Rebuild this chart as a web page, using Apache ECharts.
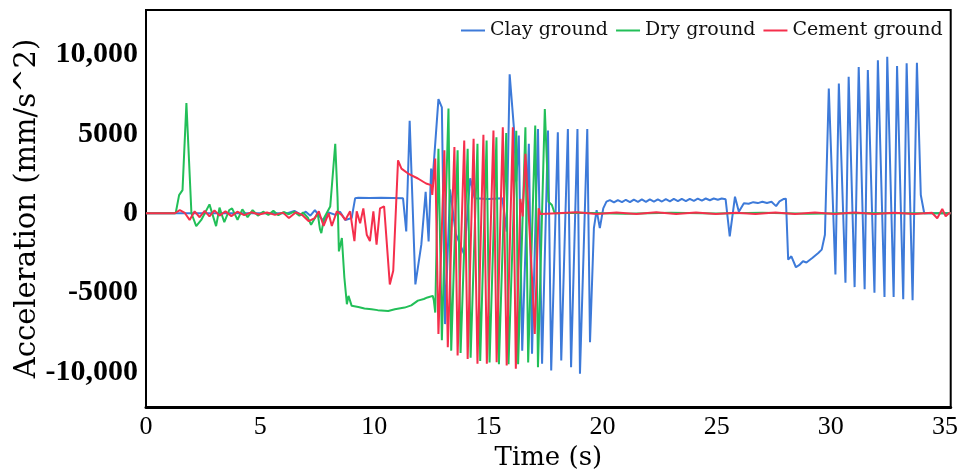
<!DOCTYPE html>
<html>
<head>
<meta charset="utf-8">
<script src="https://cdn.jsdelivr.net/npm/echarts@6/dist/echarts.min.js"></script>
<style>html,body{margin:0;padding:0;background:#fff;}#chart{width:961px;height:476px;}</style>
</head>
<body>
<div id="chart"></div>
<script>
const seriesNames = ['Clay ground', 'Dry ground', 'Cement ground'];
const xTickValues = [0, 5, 10, 15, 20, 25, 30, 35];
const yTickValues = [-10000, -5000, 0, 5000, 10000];
const yTickLabels = ['-10,000', '-5000', '0', '5000', '10,000'];

const clayTime = [0, 6.2, 6.5, 6.8, 7.0, 7.2, 7.4, 7.6, 7.8, 8.0, 8.3, 8.5, 8.73, 9.01, 9.16, 9.3, 9.8, 10.3, 10.8, 11.26, 11.4, 11.55, 11.8, 12.06, 12.25, 12.38, 12.49, 12.54, 12.81, 12.96, 13.1, 13.32, 13.57, 13.94, 14.2, 14.4, 15.0, 15.61, 15.8, 15.93, 16.12, 16.22, 16.33, 16.48, 16.77, 16.91, 17.17, 17.35, 17.61, 17.75, 18.04, 18.19, 18.48, 18.62, 18.9, 19.01, 19.33, 19.45, 19.62, 19.74, 19.88, 20.03, 20.17, 20.32, 20.5, 20.67, 20.85, 21.02, 21.2, 21.37, 21.55, 21.72, 21.9, 22.07, 22.25, 22.42, 22.6, 22.77, 22.95, 23.12, 23.3, 23.47, 23.65, 23.82, 24.0, 24.17, 24.35, 24.52, 24.7, 24.87, 25.05, 25.22, 25.39, 25.57, 25.8, 25.97, 26.19, 26.4, 26.6, 26.8, 27.0, 27.2, 27.4, 27.6, 27.75, 27.94, 28.03, 28.13, 28.27, 28.47, 28.64, 28.78, 28.93, 29.2, 29.45, 29.6, 29.74, 29.91, 30.2, 30.35, 30.64, 30.78, 31.04, 31.22, 31.48, 31.62, 31.91, 32.06, 32.35, 32.47, 32.75, 32.9, 33.17, 33.32, 33.58, 33.77, 33.94, 34.09, 35.25];
const clayAccel = [0, 0, 150, -100, 100, -150, 200, -200, -520, 50, -100, 100, -420, -300, 940, 980, 960, 980, 960, 940, -1150, 5830, -4480, -1980, 1350, -1770, 2810, 1800, 7190, 6670, -6980, 1500, -1300, -2600, 2200, 940, 900, 940, -1150, 8750, 5310, 2000, 4900, -8650, 4375, -8850, 5300, -9480, 5210, -9900, 5100, -9270, 5310, -9690, 5310, -10100, 5310, -8125, -940, 200, -940, 310, 730, 830, 680, 830, 700, 850, 700, 860, 720, 870, 720, 880, 740, 880, 740, 890, 750, 900, 760, 900, 770, 910, 780, 920, 800, 930, 820, 930, 850, 930, 880, -1460, 1040, 100, 625, 600, 700, 640, 730, 650, 720, 450, 750, 900, 920, -2920, -2710, -3400, -3230, -3020, -3100, -2800, -2500, -2290, -1350, 7860, -3850, 8170, -4375, 8600, -4650, 9210, -4790, 9020, -5000, 9640, -5270, 9850, -5270, 9270, -5420, 9440, -5480, 9480, 1150, 0, 0];

const dryTime = [0, 1.3, 1.45, 1.6, 1.77, 1.99, 2.2, 2.42, 2.78, 3.07, 3.22, 3.43, 3.65, 3.77, 4.01, 4.22, 4.45, 4.67, 4.9, 5.13, 5.36, 5.58, 5.8, 6.03, 6.26, 6.49, 6.72, 6.88, 7.1, 7.23, 7.52, 7.62, 7.68, 7.8, 8.07, 8.29, 8.39, 8.45, 8.58, 8.69, 8.8, 8.87, 9.01, 9.3, 9.57, 9.88, 10.15, 10.61, 10.9, 11.33, 11.62, 11.91, 12.17, 12.33, 12.56, 12.61, 12.67, 12.81, 12.96, 13.25, 13.37, 13.65, 13.78, 14.09, 14.22, 14.52, 14.64, 14.92, 15.05, 15.35, 15.46, 15.78, 15.88, 16.22, 16.3, 16.62, 16.74, 17.05, 17.17, 17.47, 17.63, 17.78, 17.9, 19.0, 21.0, 23.0, 25.0, 27.0, 29.0, 31.0, 33.0, 35.25];
const dryAccel = [0, 0, 1144, 1456, 6937, 0, -812, -420, 560, -812, 356, -562, 206, 312, -420, 250, -250, 200, -150, 100, -100, 150, -120, 80, -60, 100, -150, 50, -300, -730, 0, -1000, -1250, -300, 420, 4375, 1000, -2400, -1560, -4060, -5730, -5200, -5830, -5900, -6000, -6040, -6100, -6150, -6050, -5940, -5800, -5500, -5400, -5300, -5200, -5500, -6250, 4060, -8000, 6600, -8650, 3960, -8800, 4060, -9100, 4375, -9300, 4580, -9400, 4790, -9500, 5060, -9500, 5200, -9500, 5420, -9400, 5520, -9690, 6560, 730, 520, 0, 30, -30, 40, -20, 30, -30, 20, 0, 0];

const cementTime = [0, 1.26, 1.48, 1.7, 1.91, 2.13, 2.35, 2.57, 2.78, 3.0, 3.22, 3.48, 3.74, 4.0, 4.3, 4.61, 4.96, 5.3, 5.65, 6.0, 6.26, 6.57, 6.83, 7.13, 7.39, 7.57, 7.78, 8.0, 8.14, 8.36, 8.57, 8.73, 8.94, 9.13, 9.23, 9.38, 9.52, 9.67, 9.81, 9.96, 10.1, 10.25, 10.43, 10.68, 10.83, 11.04, 11.19, 11.48, 11.91, 12.27, 12.49, 12.54, 12.67, 12.81, 13.07, 13.22, 13.51, 13.65, 13.94, 14.09, 14.35, 14.52, 14.78, 14.93, 15.22, 15.36, 15.63, 15.8, 16.07, 16.2, 16.4, 16.5, 16.62, 16.88, 17.03, 17.2, 17.27, 18.0, 18.87, 19.74, 20.61, 21.48, 22.35, 23.22, 24.09, 24.96, 25.83, 26.7, 27.57, 28.43, 29.3, 30.17, 31.04, 31.91, 32.78, 33.65, 34.43, 34.66, 34.88, 35.03, 35.17, 35.25];
const cementAccel = [0, 0, 200, 20, -420, 120, -250, 150, -200, 180, -150, 120, -180, 100, -120, 60, -80, 50, -100, 40, -300, 60, -100, -500, -300, 125, -800, 0, -800, 120, -100, -420, 120, -1750, 120, -625, 310, -1350, -1750, 125, -1980, 310, 440, -4480, -3625, 3330, 2810, 2500, 2190, 1875, 1770, 1150, 3440, -7600, 3960, -8440, 4170, -8960, 4580, -9170, 4690, -9480, 4940, -9480, 5210, -9375, 5420, -9580, 5420, -9790, 900, -200, 3750, -3230, -7600, 310, -50, 0, 60, -40, 50, -50, 60, -40, 50, -50, 40, -50, 50, -40, 50, -40, 50, -50, 40, -40, 30, -310, 270, -190, 0, 0];

function zip(t, v) { return t.map((x, i) => [x, v[i]]); }

const colors = ['#3d7ad9', '#22bf58', '#f52f4c'];
const chart = echarts.init(document.getElementById('chart'), null, {renderer: 'canvas'});
const mk = (i, t, v) => ({
  name: seriesNames[i], type: 'line', symbol: 'none', showSymbol: false,
  data: zip(t, v), color: colors[i],
  lineStyle: {width: 2, color: colors[i]}, z: 2 + i
});
chart.setOption({
  animation: false,
  backgroundColor: '#ffffff',
  grid: {left: 146, right: 4, top: 10, bottom: 66, show: true, borderColor: '#000', borderWidth: 2, backgroundColor: 'transparent'},
  legend: {
    left: 456, top: 16, icon: 'rect', itemWidth: 24, itemHeight: 2, itemGap: 8,
    data: seriesNames,
    textStyle: {fontFamily: 'DejaVu Serif', fontSize: 19, color: '#111'}
  },
  xAxis: {
    type: 'value', min: 0, max: 35.25,
    axisLine: {show: true, onZero: false, lineStyle: {color: '#000', width: 3}},
    axisTick: {show: false}, splitLine: {show: false},
    axisLabel: {customValues: xTickValues, fontFamily: 'Liberation Serif', fontSize: 26, color: '#000', margin: 7},
    name: 'Time (s)', nameLocation: 'middle', nameGap: 38, nameMoveOverlap: false,
    nameTextStyle: {fontFamily: 'DejaVu Serif', fontSize: 26, color: '#000'}
  },
  yAxis: {
    type: 'value', min: -12200, max: 12800,
    axisLine: {show: true, onZero: false, lineStyle: {color: '#000', width: 2}},
    axisTick: {show: false}, splitLine: {show: false},
    axisLabel: {
      customValues: yTickValues,
      formatter: v => { const k = yTickValues.indexOf(v); return k >= 0 ? yTickLabels[k] : ''; },
      fontFamily: 'Liberation Serif', fontWeight: 'bold', fontSize: 30, color: '#000', margin: 8
    },
    name: 'Acceleration (mm/s^2)', nameLocation: 'middle', nameGap: 104, nameMoveOverlap: false,
    nameTextStyle: {fontFamily: 'DejaVu Serif', fontSize: 29, color: '#000'}
  },
  series: [mk(0, clayTime, clayAccel), mk(1, dryTime, dryAccel), mk(2, cementTime, cementAccel)]
});
</script>
</body>
</html>
